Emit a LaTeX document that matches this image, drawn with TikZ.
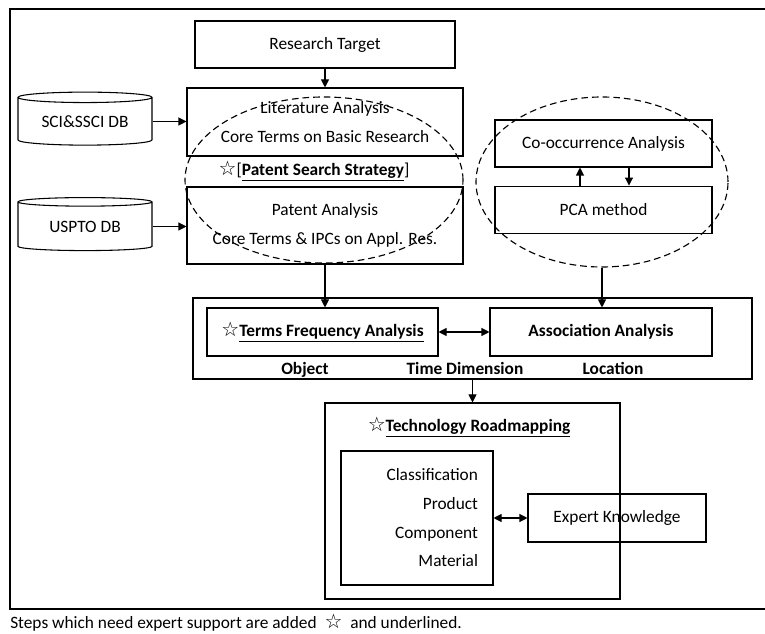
\documentclass[tikz,border=0pt]{standalone}
\usepackage{fontspec}
\setmainfont{Carlito}
\newfontfamily\symfont{DejaVu Sans}
\usepackage{tikz}
\usetikzlibrary{arrows.meta, positioning, shapes.geometric, calc}
\newcommand{\px}{0.75pt}
\newcommand{\wstar}{{\symfont\fontsize{15}{15}\selectfont ☆}}

\begin{document}
\begin{tikzpicture}[
  x=0.75pt, y=-0.75pt,
  font=\fontsize{13}{15}\selectfont,
  box/.style={rectangle, draw, line width=0.8pt, align=center, inner sep=2pt},
  twoline/.style={box, font=\fontsize{13}{21.5}\selectfont},
  db/.style={cylinder, shape border rotate=90, aspect=0.12, draw, line width=0.8pt,
             minimum width=134*\px, minimum height=53*\px, inner sep=0pt},
  group/.style={ellipse, draw, line width=0.85pt, dash pattern=on 5pt off 3pt,
                inner sep=0pt},
  lbl/.style={font=\fontsize{13}{15}\selectfont\bfseries, inner sep=0pt, anchor=base},
  narr/.style={-{Triangle[length=6pt,width=6pt]}, line width=0.8pt},
  darr/.style={{Triangle[length=6pt,width=6pt]}-{Triangle[length=6pt,width=6pt]},
               line width=0.8pt},
]
\useasboundingbox (0,0) rectangle (765,634);

% frame
\draw[line width=0.8pt] (765,9) -- (10,9) -- (10,609) -- (765,609);

% left column
\node[box, minimum width=260*\px, minimum height=47*\px] (tgt) at (325,44.5) {Research Target};
\node[twoline, minimum width=276*\px, minimum height=68*\px] (lit) at (325,122)
  {Literature Analysis\\Core Terms on Basic Research};
\node[inner sep=1pt] (pss) at (314,171)
  {\wstar[\underline{\textbf{Patent Search Strategy}}]};
\node[twoline, minimum width=276*\px, minimum height=77*\px] (pat) at (325,225.5)
  {Patent Analysis\\Core Terms \& IPCs on Appl. Res.};
\node[group, minimum width=278*\px, minimum height=166*\px] (ell1) at (324,180) {};

\node[db] (db1) at (85,121.5) {SCI\&SSCI DB};
\node[db] (db2) at (85,226.5) {USPTO DB};

% right column
\node[box, minimum width=217*\px, minimum height=47*\px] (coo) at (603.5,143.5) {Co-occurrence Analysis};
\node[box, minimum width=217*\px, minimum height=47*\px, below=18*\px of coo] (pca) {PCA method};
\node[group, minimum width=252*\px, minimum height=170*\px] (ell2) at (602,182) {};

% analysis
\node[box, minimum width=559*\px, minimum height=81*\px] (mid) at (472.5,338.5) {};
\node[box, minimum width=231*\px, minimum height=48*\px] (tfa) at (322.5,332)
  {\wstar\underline{\textbf{Terms Frequency Analysis}}};
\node[box, minimum width=222*\px, minimum height=48*\px, font=\fontsize{13}{15}\selectfont\bfseries] (asn) at (601,332)
  {Association Analysis};
\node[lbl] (obj) at (305,375) {Object};
\node[lbl] (tdim) at (465,375) {Time Dimension};
\node[lbl] (loc) at (613,375) {Location};

% roadmapping
\node[box, minimum width=295*\px, minimum height=196*\px] (trm) at (472.5,501) {};
\node[inner sep=1pt] (ttl) at (469,427) {\wstar\underline{\textbf{Technology Roadmapping}}};
\node[box, minimum width=152*\px, minimum height=134*\px, text width=122*\px,
      align=right, font=\fontsize{13}{21.5}\selectfont] (cls) at (417,518)
  {Classification\hspace{8pt}\\Product\\Component\\Material};
\node[box, minimum width=178*\px, minimum height=48*\px] (exp) at (617,518) {Expert Knowledge};

\node[anchor=west, inner sep=0pt] (note) at (10,623)
  {Steps which need expert support are added\ \ \wstar\ \ and underlined.};

% arrows
\draw[narr] (tgt) -- (lit);
\draw[narr] (db1.east) -- (db1.east -| lit.west);
\draw[narr] (db2.east) -- (db2.east -| pat.west);
\draw[narr] ([xshift=-23.5*\px]pca.north) -- ([xshift=-23.5*\px]coo.south);
\draw[narr] ([xshift=25.5*\px]coo.south) -- ([xshift=25.5*\px]pca.north);
\draw[narr] (pat.south) -- (pat.south |- tfa.north);
\draw[narr] (ell2.south) -- (ell2.south |- asn.north);
\draw[darr] (tfa.east) -- (asn.west);
\draw[narr] (mid.south) -- (trm.north);
\draw[darr] (cls.east) -- (exp.west);

\end{tikzpicture}
\end{document}
